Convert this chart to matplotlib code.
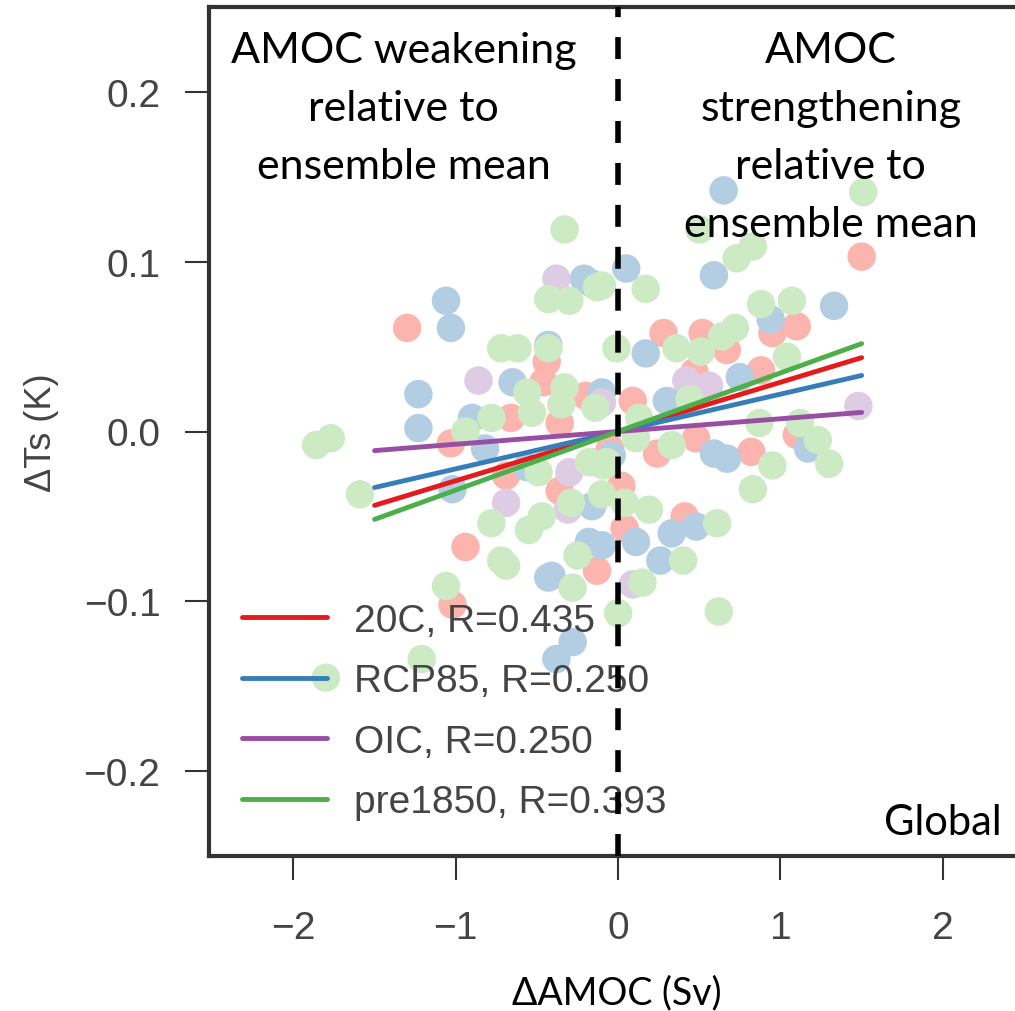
import numpy as np
import matplotlib
matplotlib.use("Agg")
import matplotlib.pyplot as plt

# scatter points (dAMOC [Sv], dTs [K])
c20_x = [-1.30, 1.50, 1.10, 0.67, 0.52, 0.28, 0.88, 0.09, 0.48, 0.24, 0.82,
         1.10, 0.47, -0.05, -0.44, -0.66, -0.36, -1.03, -0.46, -0.20, -0.94,
         -0.69, -0.36, -0.13, -1.02, 0.04, -0.17, 0.02, 0.41, 0.95]
c20_y = [0.061, 0.103, 0.062, 0.048, 0.058, 0.058, 0.036, 0.018, -0.004,
         -0.013, -0.012, -0.002, 0.035, -0.010, 0.041, 0.008, 0.005, -0.007,
         0.029, 0.021, -0.068, -0.026, -0.035, -0.082, -0.102, -0.057,
         -0.018, -0.032, -0.050, 0.058]

rcp_x = [-1.06, -1.03, -1.23, -1.23, -0.65, -0.90, -0.43, 0.05, -0.21, -0.16,
         0.17, -0.10, -0.04, -0.16, -0.41, -0.18, 0.11, -0.82, -1.02, -0.56,
         0.65, 0.59, 1.33, 0.94, 0.75, 0.30, 0.59, 0.67, 1.17, 0.26, 0.33,
         0.48, -0.10, -0.43, -0.28, -0.38]
rcp_y = [0.077, 0.061, 0.022, 0.002, 0.029, 0.008, 0.051, 0.096, 0.090, 0.087,
         0.046, 0.023, -0.014, -0.044, -0.085, -0.065, -0.065, -0.010, -0.034,
         -0.021, 0.142, 0.092, 0.074, 0.066, 0.032, 0.018, -0.013, -0.016,
         -0.010, -0.076, -0.060, -0.056, -0.067, -0.086, -0.124, -0.134]

oic_x = [-0.38, -0.86, -0.10, 0.42, 0.56, 1.48, -0.69, -0.31, -0.30, 0.09]
oic_y = [0.090, 0.030, 0.017, 0.030, 0.027, 0.015, -0.042, -0.046, -0.024,
         -0.090]

pre_x = [-0.43, -0.30, -0.13, -0.33, 0.50, 1.51, 0.83, 0.73, 0.17, -0.10,
         0.88, 1.07, -0.72, -0.62, -0.43, -0.56, -0.33, -1.77, -1.86, -0.78,
         -0.94, -0.53, -0.35, -0.14, -0.01, -0.18, 0.36, 0.51, 0.64, 0.72,
         1.04, 0.44, 0.13, 0.11, 0.33, 0.87, 1.12, 1.23, 0.95, 1.30, -0.07,
         0.83, 0.19, 0.61, 0.40, 0.15, 0.62, -1.59, -0.78, -0.55, -0.47,
         -0.72, -0.69, -1.06, -0.25, -0.28, -0.29, -0.10, -0.49, 0.00, -1.21,
         -1.80, 0.04, -0.09]
pre_y = [0.078, 0.077, 0.085, 0.119, 0.119, 0.141, 0.109, 0.102, 0.084, 0.086,
         0.075, 0.077, 0.049, 0.049, 0.049, 0.023, 0.026, -0.004, -0.008,
         0.008, 0.000, 0.011, 0.016, 0.014, 0.049, -0.018, 0.049, 0.047,
         0.056, 0.061, 0.044, 0.019, 0.008, -0.004, -0.008, 0.005, 0.005,
         -0.005, -0.020, -0.019, -0.018, -0.034, -0.046, -0.054, -0.076,
         -0.089, -0.106, -0.037, -0.054, -0.058, -0.050, -0.076, -0.079,
         -0.091, -0.073, -0.092, -0.042, -0.037, -0.024, -0.107, -0.134,
         -0.145, -0.042, -0.020]

names = ["20C", "RCP85", "OIC", "pre1850"]
r_values = [0.435, 0.250, 0.250, 0.393]
slopes = [0.029, 0.022, 0.0075, 0.0345]  # K per Sv, fit through origin
fit_range = [-1.5, 1.5]

line_colors = ["#e41a1c", "#377eb8", "#984ea3", "#4daf4a"]
dot_colors = ["#fbb4ae", "#b3cde3", "#decbe4", "#ccebc5"]

plt.rcParams["font.family"] = ["Liberation Sans", "DejaVu Sans"]
text_gray = "#444444"
spine_gray = "#333333"

fig = plt.figure(figsize=(10.15, 10.12), dpi=100)
ax = fig.add_axes([209 / 1015, 1 - 857 / 1012, 815 / 1015, 849 / 1012])

points = [(c20_x, c20_y), (rcp_x, rcp_y), (oic_x, oic_y), (pre_x, pre_y)]
for (xs, ys), col in zip(points, dot_colors):
    ax.scatter(xs, ys, s=420, color=col, edgecolors="none", zorder=2)

xfit = np.array(fit_range)
for name, r, k, col in zip(names, r_values, slopes, line_colors):
    ax.plot(xfit, k * xfit, color=col, lw=3.5, solid_capstyle="round",
            label=f"{name}, R={r:.3f}", zorder=3)

ax.axvline(0, color="black", lw=4, dashes=(3.95, 3.6), zorder=6)

ax.set_xlim(-2.52, 2.5)
ax.set_ylim(-0.25, 0.25)
ax.set_xticks([-2, -1, 0, 1, 2])
ax.set_yticks([-0.2, -0.1, 0.0, 0.1, 0.2])
ax.set_xticklabels(["\u22122", "\u22121", "0", "1", "2"])
ax.set_yticklabels(["\u22120.2", "\u22120.1", "0.0", "0.1", "0.2"])
ax.tick_params(axis="both", direction="out", length=17, width=1.5,
               color=spine_gray, labelsize=28, labelcolor=text_gray)
ax.tick_params(axis="x", pad=22)
ax.tick_params(axis="y", pad=18)
for sp in ax.spines.values():
    sp.set_linewidth(3)
    sp.set_color(spine_gray)

ax.set_ylabel("\u0394Ts (K)", fontsize=26, color=text_gray, labelpad=18)
ax.set_xlabel("\u0394AMOC (Sv)", fontsize=27, family="Lato", color="black",
              labelpad=20)

ax.text(-1.32, 0.236, "AMOC weakening\nrelative to\nensemble mean",
        ha="center", va="top", fontsize=31, family="Lato", linespacing=1.65,
        zorder=7)
ax.text(1.31, 0.236, "AMOC\nstrengthening\nrelative to\nensemble mean",
        ha="center", va="top", fontsize=31, family="Lato", linespacing=1.65,
        zorder=7)
ax.text(2.364, -0.237, "Global", ha="right", va="baseline", fontsize=30,
        family="Lato", zorder=7)

leg = ax.legend(loc="lower left", bbox_to_anchor=(0.040, 0.042),
                borderaxespad=0, borderpad=0, frameon=False, fontsize=28,
                handlelength=2.2, handletextpad=0.7, labelspacing=0.63)
for t in leg.get_texts():
    t.set_color(text_gray)
leg.set_zorder(5)

fig.savefig("out.png", dpi=100)
